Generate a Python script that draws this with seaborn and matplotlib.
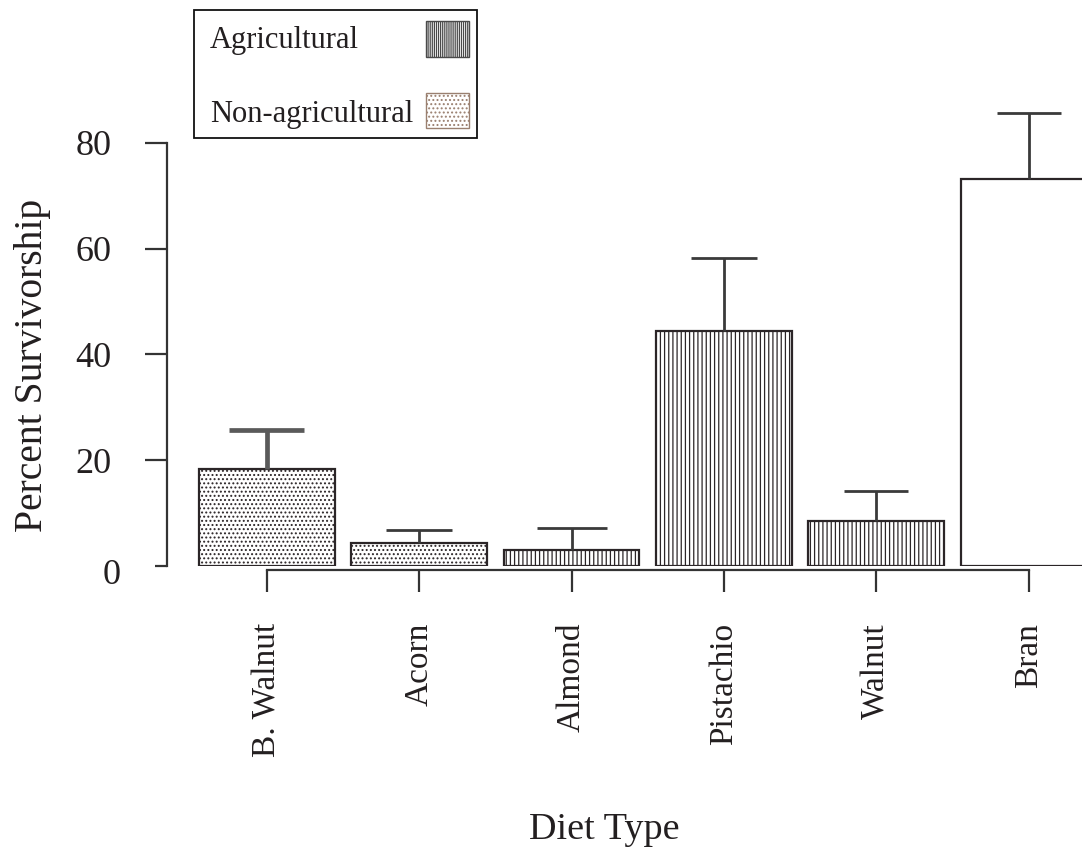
import matplotlib
matplotlib.use("Agg")
import matplotlib.pyplot as plt
import matplotlib.transforms as mtransforms
from matplotlib.patches import Rectangle
import seaborn as sns
import pandas as pd

# Survivorship by diet (mean and upper standard error)
diets = ["B. Walnut", "Acorn", "Almond", "Pistachio", "Walnut", "Bran"]
survival = [18.3, 4.3, 3.0, 44.4, 8.5, 73.2]
upper_err = [7.4, 2.5, 4.2, 13.8, 5.7, 12.4]
groups = ["Non-agricultural", "Non-agricultural", "Agricultural",
          "Agricultural", "Agricultural", "Control"]
legend_labels = ["Agricultural", "Non-agricultural"]
y_ticks = [0, 20, 40, 60, 80]

df = pd.DataFrame({"diet": diets, "survival": survival,
                   "err": upper_err, "group": groups})

hatch_for = {"Agricultural": "||||", "Non-agricultural": "....", "Control": ""}
ink = "#2b2527"
text_col = "#231f20"

sns.set_style("white")
plt.rcParams["font.family"] = ["Liberation Serif", "DejaVu Serif"]
plt.rcParams["hatch.linewidth"] = 0.9
plt.rcParams["hatch.color"] = "#4a4a4a"

W, H = 1082, 849
fig = plt.figure(figsize=(W / 100, H / 100), dpi=100)
ax = fig.add_axes([167 / W, (H - 566) / H, 1 - 167 / W, (566 - 100) / H])

sns.barplot(data=df, x="diet", y="survival", color="white", width=0.89,
            edgecolor=ink, linewidth=1.6, errorbar=None, saturation=1, ax=ax)

for bar, grp in zip(ax.patches, df["group"]):
    bar.set_hatch(hatch_for[grp])
    bar.set_facecolor("white")
    bar.set_edgecolor(ink)

# Upper error bars with caps
err_lw = [3.4, 2.0, 2.0, 2.0, 2.0, 2.0]
err_col = ["#5a5a5a", "#3a3a3a", "#3a3a3a", "#3a3a3a", "#3a3a3a", "#3a3a3a"]
cap_half = [0.245, 0.215, 0.23, 0.215, 0.21, 0.21]
for i, (m, e) in enumerate(zip(df["survival"], df["err"])):
    ax.vlines(i, m, m + e, color=err_col[i], lw=err_lw[i], zorder=3)
    ax.hlines(m + e, i - cap_half[i], i + cap_half[i], color=err_col[i],
              lw=err_lw[i], zorder=3)

ax.set_xlim(-0.655, 5.35)
ax.set_ylim(0, 88.1)
ax.set_yticks(y_ticks)
ax.set_yticklabels([str(v) for v in y_ticks])

for side in ["top", "right"]:
    ax.spines[side].set_visible(False)
for side in ["left", "bottom"]:
    ax.spines[side].set_color("#333333")
    ax.spines[side].set_linewidth(1.6)
ax.spines["left"].set_bounds(0, 80)
ax.spines["bottom"].set_bounds(0, 5)
ax.spines["bottom"].set_position(("outward", 3))

ax.tick_params(axis="y", length=16, width=1.6, color="#333333",
               labelsize=26, pad=24, labelcolor=text_col, left=True)
ax.tick_params(axis="x", length=16, width=1.6, color="#333333",
               labelsize=24, pad=22, labelcolor=text_col, bottom=True,
               labelrotation=90)

# the zero tick is shorter and its label sits a little lower and to the right
zero_tick = ax.yaxis.get_major_ticks()[0]
zero_tick.tick1line.set_markersize(8.6)
zero_lbl = ax.get_yticklabels()[0]
zero_lbl.set_transform(zero_lbl.get_transform() +
                       mtransforms.ScaledTranslation(0.09, -0.06, fig.dpi_scale_trans))

ax.set_xlabel("")
ax.set_ylabel("")
fig.text(33 / W, 1 - 365 / H, "Percent Survivorship", rotation=90,
         ha="center", va="center", fontsize=28.5, color=text_col)
fig.text(604 / W, 1 - 830 / H, "Diet Type", ha="center", va="center",
         fontsize=27.5, color=text_col)

# Legend box: labels on the left, swatches on the right
fig.add_artist(Rectangle((194 / W, 1 - 138 / H), (477 - 194) / W, (138 - 10) / H,
                         transform=fig.transFigure, facecolor="white",
                         edgecolor="#111111", lw=1.3))
swatches = [dict(hatch="||||||||", edgecolor="#4a4a4a", y0=21, y1=57),
            dict(hatch="....", edgecolor="#9a8070", y0=93, y1=128)]
baselines = [48, 122]
for lab, sw, base in zip(legend_labels, swatches, baselines):
    fig.text(210 / W, 1 - base / H, lab, ha="left", va="baseline",
             fontsize=22, color=text_col)
    fig.add_artist(Rectangle((426 / W, 1 - sw["y1"] / H), (469 - 426) / W,
                             (sw["y1"] - sw["y0"]) / H, transform=fig.transFigure,
                             facecolor="white", edgecolor=sw["edgecolor"],
                             hatch=sw["hatch"], lw=1.0))

fig.savefig("out.png", dpi=100)
